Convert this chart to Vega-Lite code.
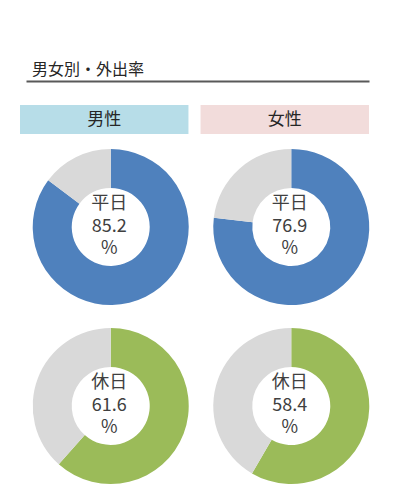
{
  "$schema": "https://vega.github.io/schema/vega-lite/v6.json",
  "width": 344,
  "height": 414,
  "autosize": "none",
  "padding": {"left": 26, "top": 81, "right": 28, "bottom": 0},
  "background": "white",
  "config": {"view": {"stroke": null}, "font": "Noto Sans CJK JP"},
  "title": {
    "text": "男女別・外出率",
    "anchor": "start",
    "frame": "group",
    "dx": 6,
    "offset": 3,
    "fontSize": 16,
    "fontWeight": "normal",
    "color": "#262626",
    "font": "Noto Sans CJK JP"
  },
  "data": {
    "values": [
      {"sex": "男性", "day": "平日", "status": "外出", "value": 85.2},
      {"sex": "男性", "day": "平日", "status": "非外出", "value": 14.8},
      {"sex": "女性", "day": "平日", "status": "外出", "value": 76.9},
      {"sex": "女性", "day": "平日", "status": "非外出", "value": 23.1},
      {"sex": "男性", "day": "休日", "status": "外出", "value": 61.6},
      {"sex": "男性", "day": "休日", "status": "非外出", "value": 38.4},
      {"sex": "女性", "day": "休日", "status": "外出", "value": 58.4},
      {"sex": "女性", "day": "休日", "status": "非外出", "value": 41.6}
    ]
  },
  "encoding": {
    "x": {
      "field": "sex",
      "type": "nominal",
      "scale": {"type": "band", "domain": ["男性", "女性"], "range": [-6, 343], "paddingInner": 0.067, "paddingOuter": 0},
      "axis": {
        "orient": "top",
        "domain": true,
        "domainColor": "#595959",
        "domainWidth": 2,
        "domainDash": [0, 6, 400],
        "ticks": false,
        "labels": false,
        "grid": false,
        "title": null
      }
    }
  },
  "layer": [
    {
      "transform": [{"filter": "datum.day === '平日' && datum.status === '外出'"}],
      "encoding": {
        "y": {
          "datum": "見出し",
          "type": "nominal",
          "scale": {"type": "band", "domain": ["見出し"], "range": [24, 53], "paddingInner": 0, "paddingOuter": 0},
          "axis": null
        }
      },
      "layer": [
        {
          "mark": {"type": "rect"},
          "encoding": {
            "color": {
              "field": "sex",
              "type": "nominal",
              "scale": {"domain": ["男性", "女性"], "range": ["#b7dde8", "#f2dcdb"]},
              "legend": null
            }
          }
        },
        {
          "mark": {"type": "text", "fontSize": 17, "color": "#262626", "baseline": "middle", "align": "center"},
          "encoding": {"text": {"field": "sex", "type": "nominal"}}
        }
      ]
    },
    {
      "transform": [
        {"stack": "value", "groupby": ["sex", "day"], "sort": [{"field": "status", "order": "ascending"}], "as": ["v0", "v1"]}
      ],
      "encoding": {
        "y": {
          "field": "day",
          "type": "nominal",
          "scale": {"type": "point", "domain": ["平日", "休日"], "range": [146, 325], "padding": 0},
          "axis": null
        }
      },
      "layer": [
        {
          "mark": {"type": "arc", "innerRadius": 39, "outerRadius": 78, "xOffset": 6.5},
          "encoding": {
            "theta": {"field": "v0", "type": "quantitative", "scale": {"domain": [0, 100]}, "stack": null},
            "theta2": {"field": "v1"},
            "color": {
              "field": "day",
              "type": "nominal",
              "scale": {"domain": ["平日", "休日"], "range": ["#4f81bd", "#9bbb59"]},
              "legend": null,
              "condition": {"test": "datum.status === '非外出'", "value": "#d9d9d9"}
            }
          }
        },
        {
          "transform": [{"filter": "datum.status === '外出'"}],
          "mark": {"type": "text", "fontSize": 18, "color": "#404040", "baseline": "middle", "align": "center", "xOffset": 5, "dy": -23},
          "encoding": {"text": {"field": "day", "type": "nominal"}}
        },
        {
          "transform": [{"filter": "datum.status === '外出'"}],
          "mark": {"type": "text", "fontSize": 18, "color": "#404040", "baseline": "middle", "align": "center", "xOffset": 5, "dy": 0},
          "encoding": {"text": {"field": "value", "type": "quantitative", "format": ".1f"}}
        },
        {
          "transform": [{"filter": "datum.status === '外出'"}],
          "mark": {"type": "text", "fontSize": 18, "color": "#404040", "baseline": "middle", "align": "center", "xOffset": 5, "dy": 22},
          "encoding": {"text": {"value": "%"}}
        }
      ]
    }
  ],
  "resolve": {"scale": {"y": "independent", "color": "independent"}}
}
